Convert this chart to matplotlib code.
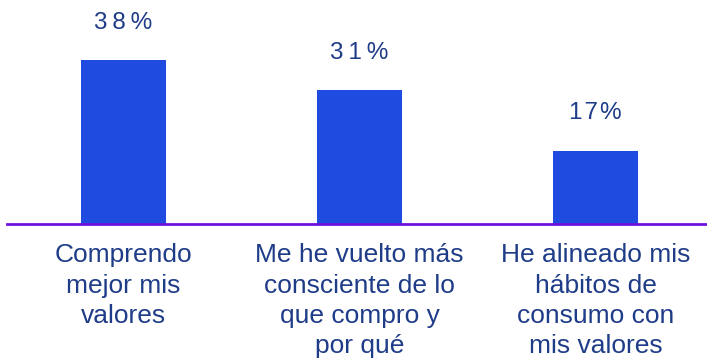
import matplotlib.pyplot as plt

# datos
categorias = ["Comprendo\nmejor mis\nvalores",
              "Me he vuelto más\nconsciente de lo\nque compro y\npor qué",
              "He alineado mis\nhábitos de\nconsumo con\nmis valores"]
valores = [38, 31, 17]
etiquetas = ["3\u20098\u2009%", "3\u20091\u2009%", "1\u200a7\u200a%"]

plt.rcParams['font.family'] = ['Liberation Sans', 'DejaVu Sans']

fig = plt.figure(figsize=(7.07, 3.64), dpi=100)
ax = fig.add_axes([0.0099, 0.385, 0.9901, 0.615])

x = range(len(valores))
ax.bar(x, valores, width=0.36, color='#1F4BE0', zorder=2)

for i, v in enumerate(valores):
    ax.annotate(etiquetas[i], (i, v), xytext=(0, 27), textcoords='offset points',
                ha='center', va='center', fontsize=17.5, color='#1F3C88')

ax.set_xlim(-0.494, 2.472)
ax.set_ylim(0, 52)
ax.set_xticks(list(x))
ax.set_xticklabels(categorias, fontsize=19, color='#1F3C88', linespacing=1.33)
ax.tick_params(axis='x', length=0, pad=14)
ax.set_yticks([])
for s in ['top', 'right', 'left']:
    ax.spines[s].set_visible(False)
ax.spines['bottom'].set_color('#7010E0')
ax.spines['bottom'].set_linewidth(2)
ax.spines['bottom'].set_zorder(3)

plt.savefig("out.png", dpi=100)
